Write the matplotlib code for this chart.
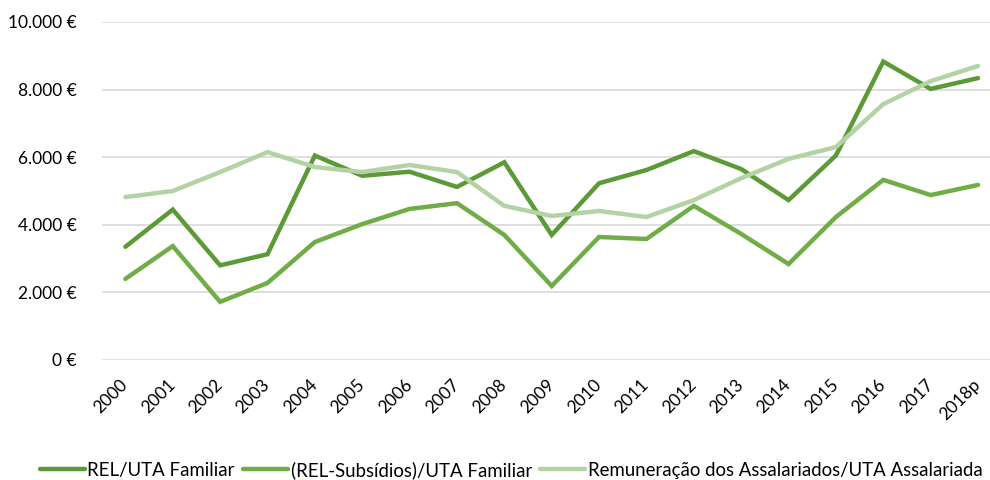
import matplotlib
matplotlib.use("Agg")
import matplotlib.pyplot as plt
from matplotlib.ticker import FuncFormatter

plt.rcParams["font.family"] = ["Lato", "DejaVu Sans"]

years = ["2000", "2001", "2002", "2003", "2004", "2005", "2006", "2007", "2008", "2009",
         "2010", "2011", "2012", "2013", "2014", "2015", "2016", "2017", "2018p"]

rel_uta_familiar = [3350, 4450, 2800, 3130, 6050, 5450, 5570, 5120, 5850, 3700,
                    5230, 5620, 6180, 5650, 4730, 6050, 8830, 8020, 8340]
rel_sem_subsidios = [2400, 3370, 1720, 2280, 3490, 4020, 4470, 4640, 3700, 2190,
                     3640, 3580, 4560, 3730, 2840, 4230, 5330, 4880, 5180]
remuneracao_assalariados = [4820, 5000, 5560, 6150, 5710, 5560, 5770, 5560, 4560, 4260,
                            4410, 4230, 4730, 5380, 5950, 6300, 7570, 8250, 8700]

labels = ["REL/UTA Familiar", "(REL-Subsídios)/UTA Familiar",
          "Remuneração dos Assalariados/UTA Assalariada"]
colors = ["#5B9A36", "#70AD47", "#B4D3A4"]

fig = plt.figure(figsize=(9.9, 4.8), dpi=100)
ax = fig.add_axes([101.7 / 990, 1 - 360 / 480, 900 / 990, 338 / 480])

x = range(len(years))
for values, label, color in zip([rel_uta_familiar, rel_sem_subsidios, remuneracao_assalariados],
                                labels, colors):
    ax.plot(x, values, color=color, lw=3.2, label=label, solid_capstyle="round",
            solid_joinstyle="miter")

ax.set_xlim(-0.5, len(years) - 0.5)
ax.set_ylim(0, 10000)
ax.set_yticks(range(0, 10001, 2000))
ax.yaxis.set_major_formatter(
    FuncFormatter(lambda v, _: f"{int(v):,} €".replace(",", "."))
)
ax.set_xticks(list(x))
ax.set_xticklabels(years, rotation=45, ha="right", va="center", rotation_mode="anchor",
                   fontsize=12.5, color="#000000")
ax.tick_params(axis="y", labelsize=12.5, colors="#000000", length=0, pad=18)
ax.tick_params(axis="x", length=0, pad=16)

ax.grid(axis="y", color="#D9D9D9", lw=1.2)
ax.set_axisbelow(True)
for side in ["top", "right", "left", "bottom"]:
    ax.spines[side].set_visible(False)

fig.legend(loc="center left", bbox_to_anchor=(40 / 990, 1 - 470 / 480), ncol=3,
           frameon=False, fontsize=13.4, handlelength=2.4, handletextpad=0.15,
           columnspacing=0.45, borderaxespad=0, borderpad=0)

fig.savefig("out.png", dpi=100)
